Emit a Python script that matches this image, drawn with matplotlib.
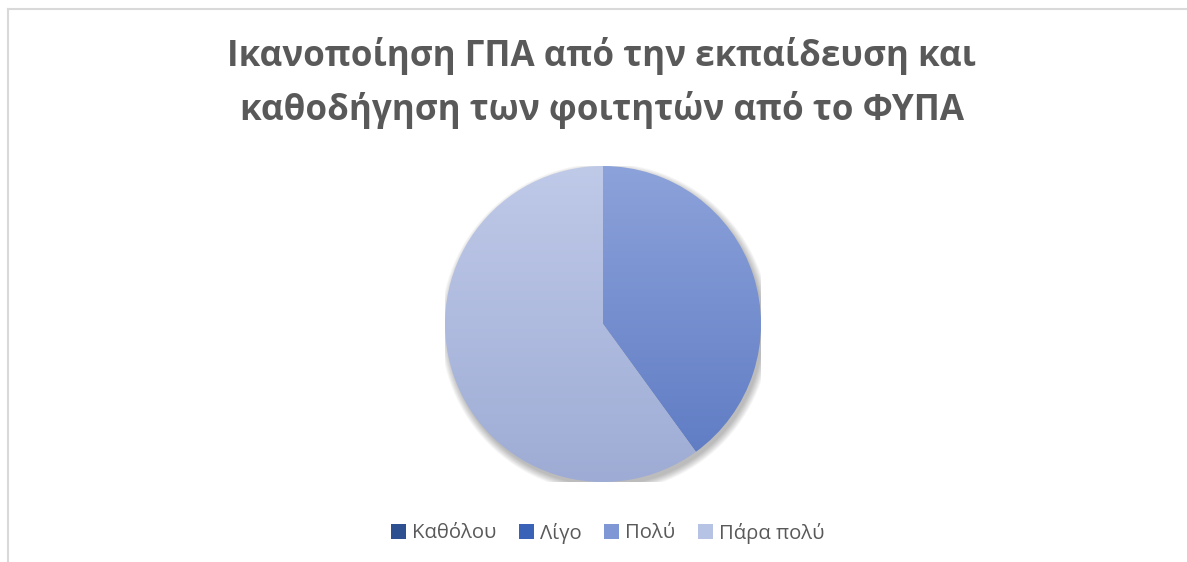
import numpy as np
import matplotlib
matplotlib.use('Agg')
import matplotlib.pyplot as plt
from matplotlib.patches import Patch, Circle
from matplotlib.lines import Line2D
from matplotlib.colors import LinearSegmentedColormap

#data
categories = ['Καθόλου', 'Λίγο', 'Πολύ', 'Πάρα πολύ']
values = [0, 0, 40, 60]
legend_colors = ['#2e4f90', '#3a63b8', '#7f97d4', '#b7c3e5']
#gradient top/bottom for each slice
grad_top = ['#3a5ea8', '#4a74c8', '#8ca2da', '#bfc9e8']
grad_bot = ['#264683', '#3058a8', '#5c79c2', '#9eacd5']

title = 'Ικανοποίηση ΓΠΑ από την εκπαίδευση και\nκαθοδήγηση των φοιτητών από το ΦΥΠΑ'

W, H = 1187, 562
fig = plt.figure(figsize=(W/100, H/100), dpi=100)
fig.patch.set_facecolor('white')

#chart border (top and left visible)
fig.add_artist(Line2D([8/W, 8/W], [0, 1-9/H], color='#d9d9d9', lw=1.5, transform=fig.transFigure))
fig.add_artist(Line2D([8/W, 1], [1-9/H, 1-9/H], color='#d9d9d9', lw=1.5, transform=fig.transFigure))

#title
fig.text(0.5+8/W, 1-83/H, title, ha='center', va='center', fontsize=25.2, fontweight='bold',
         color='#595959', family='Open Sans', linespacing=1.55)

#pie axes placed by pixel box
cx, cy, r = 603, 324, 158
ax = fig.add_axes([(cx-r)/W, (H-cy-r)/H, 2*r/W, 2*r/H])
ax.set_aspect('equal')
ax.axis('off')

#soft shadow
for k in range(8):
    ax.add_patch(Circle((0.015, -0.025), 1.0 + 0.006*k, color='black', alpha=0.035, lw=0, zorder=0))

wedges, _ = ax.pie(values, startangle=90, counterclock=False, radius=1,
                   wedgeprops=dict(linewidth=0, edgecolor='none'))

yy = np.linspace(1, 0, 256).reshape(-1, 1)
for i, w in enumerate(wedges):
    w.set_facecolor('none')
    if values[i] == 0:
        continue
    cmap = LinearSegmentedColormap.from_list('g%d' % i, [grad_bot[i], grad_top[i]])
    im = ax.imshow(yy, cmap=cmap, extent=[-1, 1, -1, 1], aspect='auto', zorder=2)
    im.set_clip_path(w)
ax.set_xlim(-1.0, 1.0)
ax.set_ylim(-1.0, 1.0)

#legend
handles = [Patch(facecolor=c, edgecolor='none') for c in legend_colors]
leg = fig.legend(handles, categories, loc='center', bbox_to_anchor=(0.512, 1-533/H), ncol=4,
                 frameon=False, handlelength=0.75, handleheight=0.75,
                 handletextpad=0.3, columnspacing=1.1, prop={'family': 'Open Sans', 'size': 14.6})
for t in leg.get_texts():
    t.set_color('#595959')

fig.savefig('out.png', dpi=100, facecolor='white')
